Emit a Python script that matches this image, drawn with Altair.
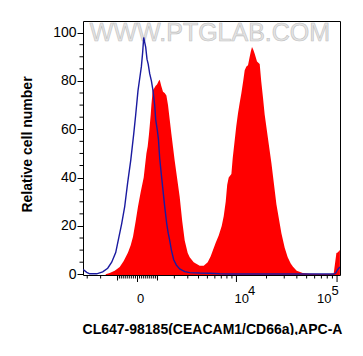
import altair as alt
import numpy as np
import pandas as pd

# ---- histogram data (x in display channels of the biexponential axis, 0..257) ----
red_x = [22.7, 26.7, 31.7, 36.7, 40.7, 45.0, 47.7, 50.0, 52.7, 55.0, 57.7, 60.7, 63.4, 64.7, 66.0,
         67.7, 68.4, 69.7, 71.2, 72.7, 74.0, 75.7, 76.7, 78.2, 80.0, 81.7, 83.4, 85.0, 86.7, 88.4,
         90.0, 91.7, 93.7, 96.7, 99.2, 101.7, 104.7, 106.7, 110.7, 116.7, 120.7, 124.7, 127.7, 130.0,
         132.7, 135.7, 138.7, 140.7, 142.7, 144.2, 145.7, 148.4, 149.7, 151.7, 153.2, 155.0, 156.7,
         158.4, 160.2, 161.7, 163.4, 165.0, 166.7, 167.7, 169.0, 170.2, 171.7, 174.0, 176.7, 178.2,
         180.0, 181.7, 184.7, 188.4, 193.4, 198.4, 201.7, 204.7, 207.7, 210.0, 213.7, 219.7, 226.7,
         236.7, 246.7, 250.7, 253.4, 254.7, 256.9]
red_y = [0, 0.5, 1.5, 3, 5.5, 9, 12, 15.5, 22, 28, 34, 40, 50, 53, 58,
         66, 70, 76, 77, 78, 78.5, 80, 80.5, 78, 75.5, 75, 74, 70, 64, 58,
         52.7, 47, 41, 32, 22, 14, 8.8, 7, 5, 3.5, 3.5, 5, 7.5, 10,
         13, 16, 20, 24, 30, 37, 40, 41.5, 48, 55.5, 61, 66.6, 71,
         75, 80, 84.4, 86, 86.5, 90, 92, 94, 93, 91.3, 88, 87, 80,
         73, 66, 57, 46, 29, 17, 11, 7, 4.5, 3.1, 1.5, 0.5, 0.2,
         0.1, 0.1, 0.3, 8.8, 9, 10]

blue_x = [0.2, 3.7, 6.7, 13.7, 19.7, 24.7, 28.7, 32.7, 35.7, 38.7, 41.7, 44.7, 47.7, 50.7, 52.7,
          55.0, 56.7, 58.4, 59.7, 60.7, 61.7, 62.7, 64.0, 65.2, 66.7, 68.4, 70.0, 71.7, 72.7, 74.2,
          75.4, 76.7, 78.4, 80.2, 81.7, 83.7, 85.2, 86.7, 88.4, 90.7, 93.4, 96.7, 101.7, 106.7,
          116.7, 126.7, 136.7, 146.7, 216.7, 250.7, 252.7, 254.7, 256.9]
blue_y = [2.0, 0.8, 0.2, 0.2, 1.0, 2.5, 5, 9, 15, 21, 28, 38, 47, 58, 66,
          76, 81, 86, 92, 98, 96, 94, 89, 87, 83, 80, 76, 70, 64, 60,
          56, 48, 41, 34, 28, 21, 17, 14, 10, 6, 3.8, 2.2, 1.1, 0.7,
          0.5, 0.4, 0.2, 0.1, 0.1, 0.1, 0.5, 2, 3]

# ---- axis values ----
y_major = [0, 20, 40, 60, 80, 100]
y_minor = [5, 10, 15, 25, 30, 35, 45, 50, 55, 65, 70, 75, 85, 90, 95]
x_major = [0, 1e4, 1e5]
x_mid = [-1e3, 1e3]
x_minor = ([-3000, -2000] + [-k * 100 for k in range(1, 10)] + [k * 100 for k in range(1, 10)]
           + [k * 1000 for k in range(2, 10)] + [k * 10000 for k in range(2, 10)])


def disp(v):
    """biexponential-like display transform (fluorescence value -> channel)"""
    return 54.5 + 43.9 * np.arcsinh(np.asarray(v, dtype=float) / 2123.0)


FONT = "Liberation Sans"
W, H = 257, 254

red = pd.DataFrame({"x": red_x, "y": red_y})
blue = pd.DataFrame({"x": blue_x, "y": blue_y})

xscale = alt.Scale(domain=[0, 257], nice=False, zero=False)
yscale = alt.Scale(domain=[-0.3, 104.8], nice=False, zero=False)

xaxis = alt.Axis(labels=False, ticks=False, domain=False, grid=False,
                 title="CL647-98185(CEACAM1/CD66a),APC-A",
                 titleFont=FONT, titleFontSize=14, titleFontWeight="bold", titleColor="black",
                 titleX=129, titleY=58, titleBaseline="alphabetic", titleAlign="center")
yaxis = alt.Axis(values=y_major, tickSize=6, tickColor="black", labelPadding=1,
                 labelFont=FONT, labelFontSize=14, labelColor="black",
                 domain=False, grid=False,
                 title="Relative cell number",
                 titleFont=FONT, titleFontSize=14, titleFontWeight="bold", titleColor="black",
                 titleX=-52, titleY=123, titleBaseline="alphabetic", titleAlign="center",
                 titleAngle=270)

X = lambda: alt.X("x:Q", scale=xscale, axis=xaxis)
Y = lambda: alt.Y("y:Q", scale=yscale, axis=yaxis)

watermark = alt.Chart(pd.DataFrame({"t": ["WWW.PTGLAB.COM"]})).mark_text(
    font=FONT, fontSize=25, color="#e4e4e4", stroke="#c0c0c0", strokeWidth=0.6,
    align="center", baseline="middle"
).encode(text="t:N", x=alt.value(127), y=alt.value(12))

area = alt.Chart(red).mark_area(color="#ff0000", interpolate="linear", clip=True).encode(
    x=X(), y=Y(), y2=alt.datum(-0.3))

line = alt.Chart(blue).mark_line(color="#1a1aa0", strokeWidth=1.4, interpolate="linear", clip=True).encode(
    x=X(), y=Y())

# y minor ticks
ymin = alt.Chart(pd.DataFrame({"y": y_minor})).mark_rule(color="black", strokeWidth=1).encode(
    y=Y(), x=alt.value(0), x2=alt.value(-3.5))

# x ticks
def xticks(vals, length):
    return alt.Chart(pd.DataFrame({"x": disp(vals)})).mark_rule(color="black", strokeWidth=1).encode(
        x=X(), y=alt.value(H), y2=alt.value(H + length))

tk_major = xticks(x_major, 7)
tk_mid = xticks(x_mid, 5.5)
tk_minor = xticks(x_minor, 3.5)

# x tick labels (0, 10^4, 10^5)
def xlabel(value, text, dx, dy_base, size=13):
    return alt.Chart(pd.DataFrame({"x": [float(disp(value))], "t": [text]})).mark_text(
        font=FONT, fontSize=size, color="black", align="left", baseline="alphabetic", dx=dx
    ).encode(x=X(), y=alt.value(H + dy_base), text="t:N")

labels = [
    xlabel(0, "0", -0.5, 28),
    xlabel(1e4, "10", -2, 28),
    xlabel(1e4, "4", 11.5, 20),
    xlabel(1e5, "10", -20, 28),
    xlabel(1e5, "5", -5.5, 20),
]

chart = alt.layer(watermark, area, line, ymin, tk_minor, tk_mid, tk_major, *labels).properties(
    width=W, height=H,
    padding={"left": 75, "top": 13, "right": 15, "bottom": 60},
    autosize="none", background="white"
).configure_view(stroke="black", strokeWidth=1)

chart.save("out.html", embed_options={"renderer": "svg", "actions": False})
